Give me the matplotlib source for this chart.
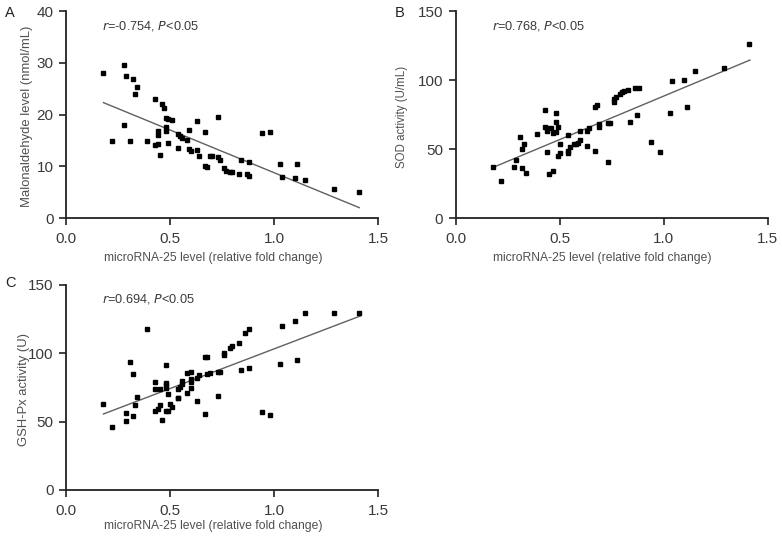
import matplotlib
matplotlib.use("Agg")
import matplotlib.pyplot as plt

plt.rcParams["font.family"] = ["Liberation Sans", "DejaVu Sans"]

# panel A: malonaldehyde vs microRNA-25
mda_x = [0.18, 0.28, 0.29, 0.32, 0.34, 0.33, 0.22, 0.28, 0.31, 0.39, 0.43, 0.46, 0.47, 0.48,
         0.49, 0.51, 0.44, 0.44, 0.43, 0.44, 0.45, 0.48, 0.48, 0.49, 0.54, 0.55, 0.56, 0.58,
         0.59, 0.54, 0.59, 0.60, 0.63, 0.63, 0.64, 0.67, 0.67, 0.68, 0.69, 0.70, 0.73, 0.73,
         0.74, 0.76, 0.77, 0.79, 0.80, 0.83, 0.84, 0.87, 0.88, 0.88, 0.94, 0.98, 1.03, 1.04,
         1.11, 1.10, 1.15, 1.29, 1.41]
mda_y = [28.0, 29.5, 27.5, 26.8, 25.4, 23.9, 14.9, 17.9, 14.9, 14.9, 23.0, 22.0, 21.2, 19.4,
         19.2, 19.0, 16.9, 16.0, 14.1, 14.4, 12.1, 17.5, 16.9, 14.5, 16.3, 15.8, 15.4, 15.1,
         17.0, 13.6, 13.4, 13.0, 18.8, 13.1, 12.0, 16.6, 10.1, 9.8, 12.0, 12.0, 19.5, 11.8,
         11.3, 9.6, 9.0, 8.9, 8.9, 8.6, 11.3, 8.6, 10.9, 8.2, 16.5, 16.7, 10.4, 8.0,
         10.4, 7.7, 7.4, 5.7, 5.0]
mda_fit_x = [0.18, 1.41]
mda_fit_y = [22.3, 2.0]

# panel B: SOD activity
sod_x = [0.18, 0.22, 0.28, 0.29, 0.31, 0.32, 0.33, 0.32, 0.34, 0.39, 0.43, 0.43, 0.44, 0.44,
         0.46, 0.44, 0.45, 0.47, 0.48, 0.48, 0.48, 0.47, 0.49, 0.49, 0.50, 0.50, 0.54, 0.54,
         0.54, 0.55, 0.57, 0.58, 0.59, 0.60, 0.60, 0.63, 0.63, 0.64, 0.67, 0.68, 0.67, 0.69,
         0.69, 0.73, 0.74, 0.73, 0.76, 0.76, 0.77, 0.79, 0.80, 0.81, 0.83, 0.86, 0.88, 0.84,
         0.87, 0.94, 0.98, 1.03, 1.04, 1.10, 1.11, 1.15, 1.29, 1.41]
sod_y = [37.1, 26.8, 37.1, 42.4, 58.8, 49.7, 53.5, 35.9, 32.3, 60.8, 78.1, 66.1, 63.4, 65.1,
         64.9, 47.7, 31.8, 33.8, 76.4, 69.7, 62.0, 61.5, 65.8, 45.1, 46.8, 53.5, 60.3, 47.0,
         48.9, 51.4, 53.3, 53.8, 54.7, 56.4, 63.2, 52.3, 63.4, 64.9, 80.8, 81.7, 48.7, 65.8,
         67.8, 69.2, 69.2, 40.3, 83.9, 86.1, 87.8, 89.7, 91.4, 92.1, 92.6, 94.3, 94.3, 69.7,
         74.8, 55.2, 47.7, 76.4, 99.3, 100.1, 80.1, 106.3, 109.0, 125.9]
sod_fit_x = [0.18, 1.415]
sod_fit_y = [36.7, 114.5]

# panel C: GSH-Px activity
gsh_x = [0.18, 0.22, 0.29, 0.29, 0.31, 0.32, 0.32, 0.33, 0.34, 0.39, 0.43, 0.43, 0.45, 0.43,
         0.44, 0.45, 0.46, 0.48, 0.48, 0.48, 0.48, 0.48, 0.49, 0.49, 0.50, 0.51, 0.54, 0.54,
         0.54, 0.55, 0.56, 0.56, 0.58, 0.58, 0.60, 0.60, 0.60, 0.60, 0.63, 0.64, 0.63, 0.67,
         0.68, 0.67, 0.68, 0.69, 0.73, 0.74, 0.73, 0.76, 0.76, 0.79, 0.80, 0.83, 0.86, 0.88,
         0.84, 0.88, 0.94, 0.98, 1.03, 1.04, 1.10, 1.11, 1.15, 1.29, 1.41]
gsh_y = [62.9, 46.3, 50.2, 56.1, 93.9, 84.9, 54.4, 62.2, 68.3, 117.6, 79.3, 73.7, 73.9, 57.6,
         59.3, 62.2, 51.5, 91.7, 78.5, 76.6, 74.6, 57.6, 57.6, 70.2, 62.9, 61.0, 67.1, 67.1,
         73.7, 75.4, 77.6, 80.0, 70.7, 85.4, 86.6, 78.8, 81.0, 74.4, 81.7, 83.9, 65.4, 97.1,
         97.1, 55.6, 84.9, 85.4, 86.6, 86.6, 69.0, 98.8, 100.5, 103.7, 105.4, 107.8, 114.9, 117.8,
         87.8, 89.5, 57.3, 55.1, 92.2, 120.0, 123.9, 95.1, 129.5, 129.5, 129.8]
gsh_fit_x = [0.18, 1.415]
gsh_fit_y = [55.6, 127.3]

x_ticks = [0.0, 0.5, 1.0, 1.5]
x_label = "microRNA-25 level (relative fold change)"

# letter, axes rect, data, y ticks, y label, r value, ylabel size, ylabel x, xlabel y, letter pos
panels = [
    ("A", [0.0844, 0.597, 0.399, 0.3826], mda_x, mda_y, mda_fit_x, mda_fit_y,
     [0, 10, 20, 30, 40], "Malonaldehyde level (nmol/mL)", "-0.754", 9.4, -0.106, -0.164,
     (0.0064, 0.976)),
    ("B", [0.5827, 0.597, 0.399, 0.3826], sod_x, sod_y, sod_fit_x, sod_fit_y,
     [0, 50, 100, 150], "SOD activity (U/mL)", "0.768", 8.3, -0.154, -0.164,
     (0.505, 0.976)),
    ("C", [0.0844, 0.0943, 0.399, 0.379], gsh_x, gsh_y, gsh_fit_x, gsh_fit_y,
     [0, 50, 100, 150], "GSH-Px activity (U)", "0.694", 9.4, -0.115, -0.146,
     (0.0064, 0.477)),
]

fig = plt.figure(figsize=(7.82, 5.41), dpi=100)

for (letter, rect, xs, ys, fx, fy, yticks, ylabel, r_text,
     ylab_size, ylab_x, xlab_y, letter_pos) in panels:
    ax = fig.add_axes(rect)
    ax.plot(fx, fy, color="#606060", linewidth=1.0, zorder=2)
    ax.plot(xs, ys, linestyle="none", marker="s", markersize=3.1,
            color="black", zorder=3)
    ax.set_xlim(0, 1.5)
    ax.set_ylim(yticks[0], yticks[-1])
    ax.set_xticks(x_ticks)
    ax.set_xticklabels([f"{t:.1f}" for t in x_ticks])
    ax.set_yticks(yticks)
    ax.spines[["top", "right"]].set_visible(False)
    for side in ("left", "bottom"):
        ax.spines[side].set_linewidth(1.3)
        ax.spines[side].set_color("#222222")
    ax.tick_params(direction="out", length=5, width=1.2, color="#222222",
                   labelsize=11, labelcolor="#3a3a3a")
    ax.tick_params(axis="x", pad=5)
    ax.tick_params(axis="y", pad=4)
    ax.set_xlabel(x_label, fontsize=8.75, color="#505050")
    ax.xaxis.set_label_coords(0.471, xlab_y)
    ax.set_ylabel(ylabel, fontsize=ylab_size, color="#505050")
    ax.yaxis.set_label_coords(ylab_x, 0.49)
    ax.text(0.115, 0.93, rf"$\it{{r}}$={r_text}, $\it{{P}}$<0.05",
            transform=ax.transAxes, ha="left", va="center",
            fontsize=9.2, color="#3a3a3a")
    fig.text(letter_pos[0], letter_pos[1], letter,
             fontsize=10.5, color="#222222", ha="left", va="center")

fig.savefig("out.png", dpi=100)
